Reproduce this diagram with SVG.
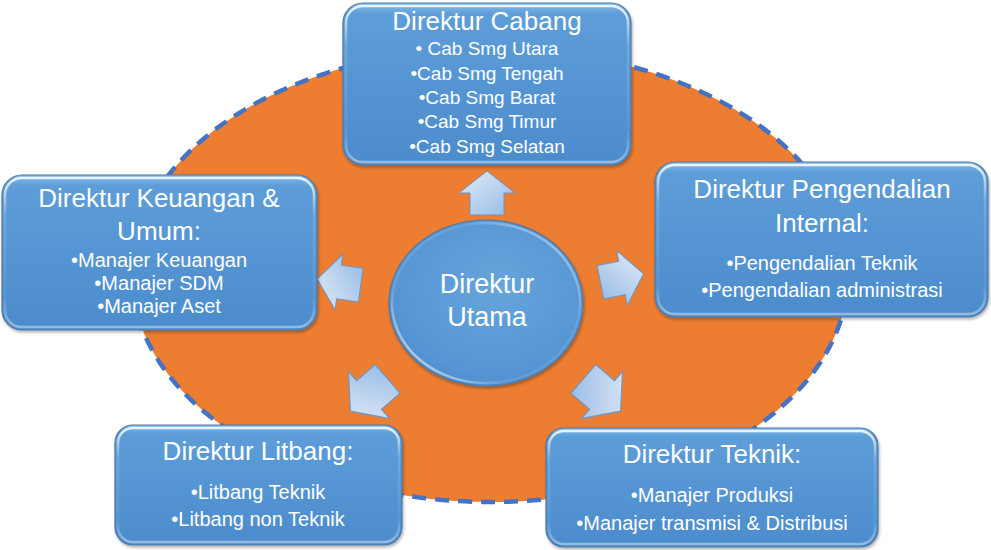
<svg xmlns="http://www.w3.org/2000/svg" width="991" height="550" viewBox="0 0 991 550">
<defs>
  <linearGradient id="boxFill" x1="0" y1="0" x2="0" y2="1">
    <stop offset="0" stop-color="#86bdec"/>
    <stop offset="0.07" stop-color="#5d9dd8"/>
    <stop offset="0.6" stop-color="#5393d2"/>
    <stop offset="1" stop-color="#4d8ccc"/>
  </linearGradient>
  <linearGradient id="hiStroke" x1="0" y1="0" x2="0" y2="1">
    <stop offset="0" stop-color="#ffffff" stop-opacity="0.85"/>
    <stop offset="0.25" stop-color="#ffffff" stop-opacity="0.15"/>
    <stop offset="0.8" stop-color="#ffffff" stop-opacity="0.05"/>
    <stop offset="1" stop-color="#ffffff" stop-opacity="0.4"/>
  </linearGradient>
  <radialGradient id="circFill" cx="0.55" cy="0.4" r="0.65">
    <stop offset="0" stop-color="#66a5dc"/>
    <stop offset="0.8" stop-color="#5595d3"/>
    <stop offset="1" stop-color="#4d8ccb"/>
  </radialGradient>
  <linearGradient id="circHi" x1="0" y1="1" x2="1" y2="0">
    <stop offset="0" stop-color="#ffffff" stop-opacity="0.9"/>
    <stop offset="0.3" stop-color="#ffffff" stop-opacity="0.1"/>
    <stop offset="0.7" stop-color="#ffffff" stop-opacity="0.1"/>
    <stop offset="1" stop-color="#ffffff" stop-opacity="0.6"/>
  </linearGradient>
  <linearGradient id="arrowFill" x1="0" y1="0" x2="1" y2="1">
    <stop offset="0" stop-color="#e2ecf8"/>
    <stop offset="0.5" stop-color="#bcd3ee"/>
    <stop offset="1" stop-color="#93b9e4"/>
  </linearGradient>
  <filter id="shadow" x="-10%" y="-10%" width="120%" height="125%">
    <feDropShadow dx="1" dy="2" stdDeviation="1.5" flood-color="#000000" flood-opacity="0.3"/>
  </filter>
  <path id="arrowShape" d="M0,-22 L28,0 L17,0 L17,22 L-17,22 L-17,0 L-28,0 Z"/>
</defs>
<style>
  .box { fill: url(#boxFill); stroke: #4f7aa6; stroke-width: 1.2; filter: url(#shadow); }
  .hi { fill: none; stroke: url(#hiStroke); stroke-width: 2.5; }
  .arrow { fill: url(#arrowFill); stroke: #6f93c0; stroke-width: 1; }
  text { font-family: "Liberation Sans", Arial, sans-serif; fill: #ffffff; text-anchor: middle; }
  .title { font-size: 26px; }
  .item { font-size: 20px; }
  .itemS { font-size: 19px; }
  .center { font-size: 27px; }
</style>

<g id="background">
  <ellipse cx="490" cy="275" rx="358" ry="227" fill="#ed7d31" stroke="#4472c4" stroke-width="4.5" stroke-dasharray="14 9"/>
</g>

<g id="connectors">
  <use href="#arrowShape" class="arrow" transform="translate(487,193)"/>
  <use href="#arrowShape" class="arrow" transform="translate(622,278) rotate(79)"/>
  <use href="#arrowShape" class="arrow" transform="translate(339,282) rotate(-82)"/>
  <use href="#arrowShape" class="arrow" transform="translate(369,395) rotate(229) scale(1.12)"/>
  <use href="#arrowShape" class="arrow" transform="translate(602,395) rotate(131) scale(1.12)"/>
</g>

<g id="direktur-utama">
  <ellipse cx="486" cy="303" rx="97" ry="83" fill="url(#circFill)" stroke="#4f7aa6" stroke-width="1.2" filter="url(#shadow)"/>
  <ellipse cx="486" cy="303" rx="94" ry="80" fill="none" stroke="url(#circHi)" stroke-width="2.5"/>
  <text class="center" x="487" y="293">Direktur</text>
  <text class="center" x="487" y="326">Utama</text>
</g>

<g id="direktur-cabang">
  <rect class="box" x="343" y="3" width="288" height="162" rx="20"/>
  <rect class="hi" x="346" y="6" width="282" height="156" rx="17"/>
  <text class="title" x="487" y="30">Direktur Cabang</text>
  <text class="itemS" x="487" y="55">• Cab Smg Utara</text>
  <text class="itemS" x="487" y="80">•Cab Smg Tengah</text>
  <text class="itemS" x="487" y="104">•Cab Smg Barat</text>
  <text class="itemS" x="487" y="128">•Cab Smg Timur</text>
  <text class="itemS" x="487" y="153">•Cab Smg Selatan</text>
</g>

<g id="direktur-keuangan">
  <rect class="box" x="2" y="175" width="315" height="155" rx="20"/>
  <rect class="hi" x="5" y="178" width="309" height="149" rx="17"/>
  <text class="title" x="159" y="207">Direktur Keuangan &amp;</text>
  <text class="title" x="159" y="240">Umum:</text>
  <text class="item" x="159" y="267">•Manajer Keuangan</text>
  <text class="item" x="159" y="290">•Manajer SDM</text>
  <text class="item" x="159" y="313">•Manajer Aset</text>
</g>

<g id="direktur-pengendalian">
  <rect class="box" x="655" y="162" width="333" height="155" rx="20"/>
  <rect class="hi" x="658" y="165" width="327" height="149" rx="17"/>
  <text class="title" x="822" y="198">Direktur Pengendalian</text>
  <text class="title" x="822" y="232">Internal:</text>
  <text class="item" x="822" y="270">•Pengendalian Teknik</text>
  <text class="item" x="822" y="297">•Pengendalian administrasi</text>
</g>

<g id="direktur-litbang">
  <rect class="box" x="115" y="425" width="287" height="120" rx="18"/>
  <rect class="hi" x="118" y="428" width="281" height="114" rx="15"/>
  <text class="title" x="258" y="460">Direktur Litbang:</text>
  <text class="item" x="258" y="499">•Litbang Teknik</text>
  <text class="item" x="258" y="526">•Litbang non Teknik</text>
</g>

<g id="direktur-teknik">
  <rect class="box" x="546" y="428" width="332" height="119" rx="18"/>
  <rect class="hi" x="549" y="431" width="326" height="113" rx="15"/>
  <text class="title" x="712" y="463">Direktur Teknik:</text>
  <text class="item" x="712" y="502">•Manajer Produksi</text>
  <text class="item" x="712" y="530">•Manajer transmisi &amp; Distribusi</text>
</g>
</svg>
